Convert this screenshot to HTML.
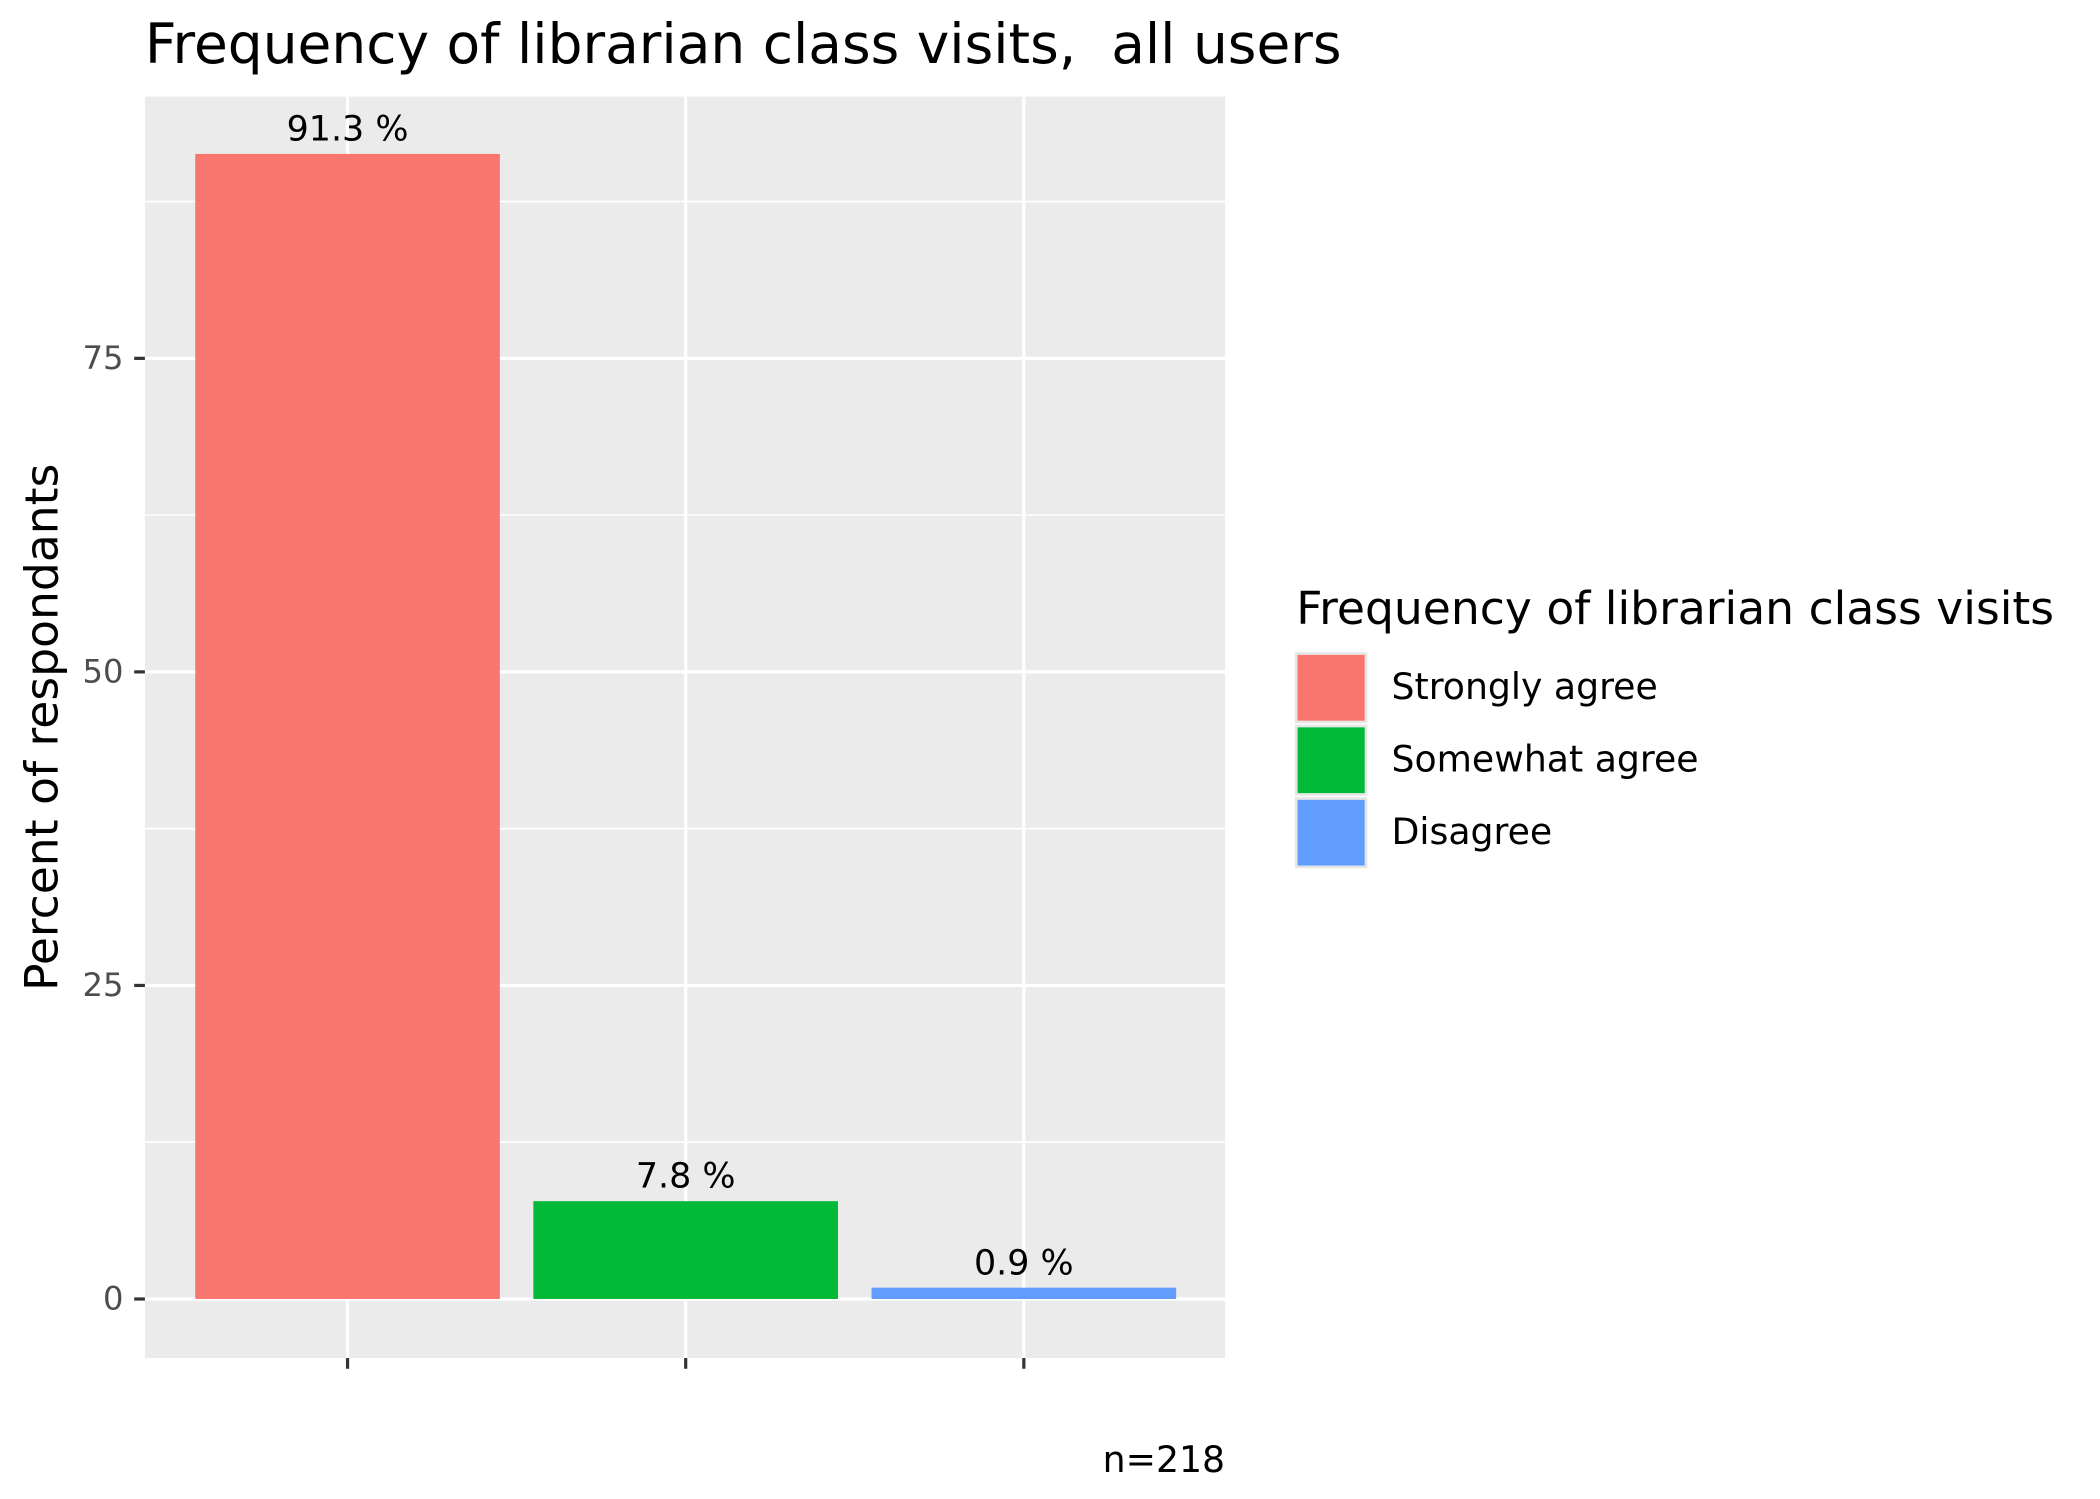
<!DOCTYPE html>
<html><head><meta charset="utf-8"><style>
html,body{margin:0;padding:0;background:#fff;}
svg{display:block;font-family:"DejaVu Sans","Liberation Sans",sans-serif;}
</style></head><body>
<svg id="chart" width="2100" height="1499" viewBox="0 0 1565 1117" xmlns="http://www.w3.org/2000/svg">
<rect width="1565" height="1117" fill="#fff"/>
<text x="108" y="47" font-size="41" fill="#000" xml:space="preserve">Frequency of librarian class visits,  all users</text>
<rect x="108" y="72" width="805" height="940" fill="#ebebeb"/>
<g id="grid"></g>
<g id="bars"></g>
<g id="axes"></g>
<text transform="translate(43,542) rotate(-90)" text-anchor="middle" font-size="34" fill="#000">Percent of respondants</text>
<text x="913" y="1097" text-anchor="end" font-size="27" fill="#000">n=218</text>
<g id="legend">
<text x="966" y="465" font-size="34" fill="#000">Frequency of librarian class visits</text>
</g>
</svg>
<script>
const categories = ["Strongly agree","Somewhat agree","Disagree"];
const values = [91.3, 7.8, 0.9];
const labels = ["91.3 %","7.8 %","0.9 %"];
const colors = ["#f8766d","#00ba38","#619cff"];
const yTicks = [0,25,50,75];
const yMinor = [12.5,37.5,62.5,87.5];

const NS="http://www.w3.org/2000/svg";
const y0=968, yPer=(968-267)/75;
const yScale=v=>y0-v*yPer;
const xStart=259, xStep=252, barW=227;
const xScale=i=>xStart+i*xStep;
function mk(tag,attrs,parent){const e=document.createElementNS(NS,tag);for(const k in attrs)e.setAttribute(k,attrs[k]);parent.appendChild(e);return e;}
const grid=document.getElementById('grid'),bars=document.getElementById('bars'),axes=document.getElementById('axes'),legend=document.getElementById('legend');
yMinor.forEach(v=>{const l=mk('line',{x1:108,x2:913,y1:yScale(v),y2:yScale(v),stroke:'#fff','stroke-width':1.2},grid);

});
yTicks.forEach(v=>{const l=mk('line',{x1:108,x2:913,y1:yScale(v),y2:yScale(v),stroke:'#fff','stroke-width':2.4},grid);


const t=mk('line',{x1:100,x2:108,y1:yScale(v),y2:yScale(v),stroke:'#333','stroke-width':2.4},axes);


const tx=mk('text',{x:92,y:yScale(v)+8,'text-anchor':'end','font-size':24,fill:'#4d4d4d'},axes);tx.textContent=v;

});
categories.forEach((c,i)=>{const x=xScale(i);
const g=mk('line',{x1:x,x2:x,y1:72,y2:1012,stroke:'#fff','stroke-width':2.4},grid);


const t=mk('line',{x1:x,x2:x,y1:1012,y2:1020,stroke:'#333','stroke-width':2.4},axes);


const b=mk('rect',{x:x-barW/2,y:yScale(values[i]),width:barW,height:y0-yScale(values[i]),fill:colors[i]},bars);


const lt=mk('text',{x:x,y:yScale(values[i])-10,'text-anchor':'middle','font-size':26,fill:'#000'},bars);lt.textContent=labels[i];


const ky=487+i*54;
const k=mk('rect',{x:966,y:ky,width:52,height:51,fill:colors[i],stroke:'#e6e6e6','stroke-width':2},legend);


const kt=mk('text',{x:1037,y:ky+34,'font-size':27,fill:'#000'},legend);kt.textContent=c;

});
</script>
</body></html>
